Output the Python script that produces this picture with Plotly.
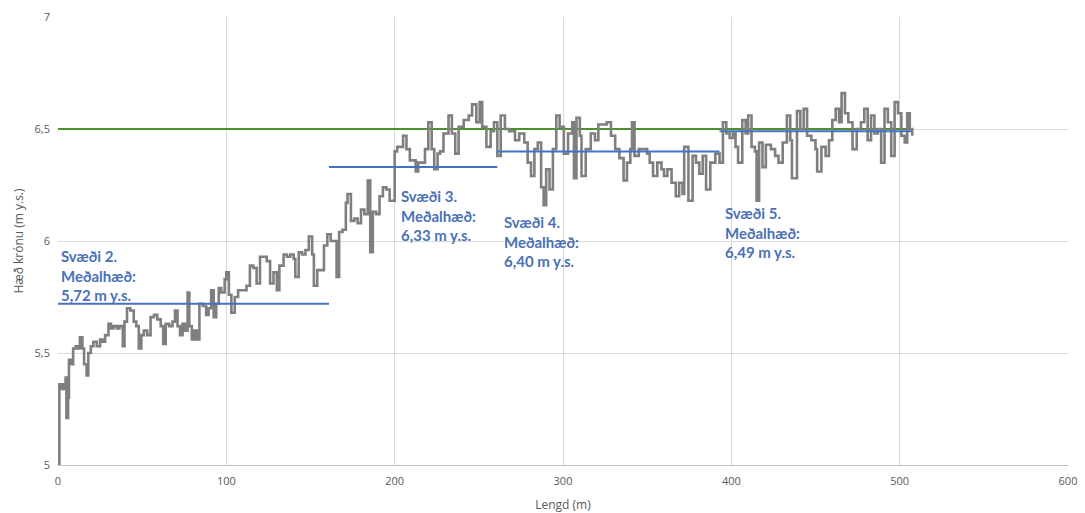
import plotly.graph_objects as go

# Profile: distance along transect (m) and crown elevation (m y.s.)
dist = [0, 0.8, 2, 3.5, 4.5, 5, 6, 6.5, 8, 9, 10.5, 12, 13, 14.5, 15.5, 17, 18, 19.5, 21, 23,
        25, 26.5, 28, 30, 31.5, 33, 35, 36.5, 38.5, 39.5, 41, 43, 45, 46.5, 48, 49.5, 51, 53, 55, 57,
        59, 61, 62.5, 64, 66, 68, 69.5, 71, 72.5, 74, 75.5, 77, 78, 79.5, 81, 82.5, 84, 86, 88, 89.5,
        91, 92.5, 94, 95.5, 97, 99, 100, 101.5, 103, 105, 107, 109.5, 112, 114, 116, 118, 120, 122, 124, 126,
        128, 130, 131.5, 134, 136, 138, 140, 141, 143, 145, 147, 149, 151, 152, 154, 156, 158, 160, 162, 164,
        165.5, 167, 169, 171, 172, 174, 176, 178, 180, 182, 184, 185.5, 187, 189, 191, 193, 195, 197, 199,
        200, 201.5, 203, 205, 207, 209, 211, 212.5, 214, 216, 218, 220, 222, 223.5, 225.5, 227, 229, 232,
        234, 236, 238, 241, 244, 246, 248.5, 250.5, 252, 254.5, 257, 259, 261, 263, 265.5, 268, 271.5, 274,
        277, 279, 281, 283, 285, 287, 288.5, 290, 292, 294, 296, 298,
        300.5, 303, 305.5, 306.5, 308, 310, 311, 313.5, 316.5, 319, 321, 323.5, 326, 328.5, 331, 333.5,
        336, 338, 340, 341, 342.5, 345, 348, 350, 351.5, 353.5, 356, 358.5, 360, 362, 364.5, 367, 369, 371,
        372, 374.5, 377, 379, 381, 383, 385, 387.5, 390.5, 393, 395, 397, 399,
        401, 402.5, 404, 406.5, 408.5, 410, 412, 414, 415, 416.5, 418.5, 420.5, 423.5, 426, 428, 430.5,
        433, 435, 436, 439, 441, 443, 445, 447.5, 450, 451, 453.5, 456, 458, 460, 462, 464, 465.5, 467.5,
        469.5, 472, 474.5, 477, 479, 481, 483, 485, 487, 489, 491, 493, 495, 497, 499, 501, 503, 504.5,
        506, 507.5]
elev = [5.00, 5.36, 5.34, 5.36, 5.39, 5.21, 5.30, 5.47, 5.45, 5.52, 5.53, 5.52, 5.57, 5.52, 5.45, 5.40, 5.50, 5.53, 5.55, 5.53,
        5.56, 5.55, 5.58, 5.63, 5.61, 5.62, 5.61, 5.62, 5.53, 5.64, 5.70, 5.69, 5.64, 5.62, 5.52, 5.58, 5.60, 5.58, 5.66, 5.67,
        5.65, 5.62, 5.54, 5.63, 5.62, 5.64, 5.69, 5.62, 5.58, 5.63, 5.60, 5.77, 5.62, 5.56, 5.60, 5.56, 5.72, 5.71, 5.67, 5.70,
        5.78, 5.66, 5.72, 5.79, 5.77, 5.83, 5.86, 5.76, 5.68, 5.75, 5.78, 5.78, 5.80, 5.89, 5.88, 5.81, 5.93, 5.93, 5.91, 5.81,
        5.86, 5.78, 5.89, 5.94, 5.93, 5.94, 5.92, 5.84, 5.95, 5.94, 5.96, 6.02, 5.94, 5.80, 5.87, 5.87, 5.98, 6.03, 6.00, 6.00,
        5.84, 6.04, 6.05, 6.17, 6.21, 6.09, 6.10, 6.08, 6.14, 6.12, 6.27, 5.95, 6.13, 6.12, 6.20, 6.24, 6.23, 6.18, 6.18,
        6.40, 6.42, 6.42, 6.47, 6.41, 6.36, 6.36, 6.31, 6.35, 6.35, 6.41, 6.53, 6.41, 6.32, 6.39, 6.40, 6.48, 6.56,
        6.48, 6.39, 6.51, 6.54, 6.56, 6.61, 6.53, 6.62, 6.51, 6.42, 6.49, 6.53, 6.38, 6.56, 6.50, 6.49, 6.45, 6.48,
        6.44, 6.35, 6.29, 6.41, 6.44, 6.24, 6.16, 6.32, 6.23, 6.41, 6.56, 6.51,
        6.39, 6.48, 6.53, 6.28, 6.55, 6.47, 6.29, 6.41, 6.48, 6.45, 6.52, 6.52, 6.53, 6.47, 6.41, 6.37,
        6.27, 6.35, 6.41, 6.53, 6.38, 6.41, 6.41, 6.39, 6.35, 6.29, 6.35, 6.32, 6.29, 6.32, 6.26, 6.20, 6.26, 6.21,
        6.42, 6.18, 6.38, 6.35, 6.30, 6.38, 6.23, 6.35, 6.39, 6.35, 6.53, 6.48, 6.46,
        6.48, 6.42, 6.35, 6.54, 6.48, 6.56, 6.42, 6.40, 6.18, 6.44, 6.33, 6.43, 6.41, 6.38, 6.35, 6.44,
        6.56, 6.45, 6.28, 6.58, 6.50, 6.59, 6.47, 6.45, 6.41, 6.31, 6.42, 6.38, 6.45, 6.54, 6.59, 6.53, 6.66, 6.57,
        6.53, 6.41, 6.50, 6.53, 6.59, 6.45, 6.56, 6.48, 6.50, 6.35, 6.59, 6.53, 6.38, 6.62, 6.57, 6.47, 6.44, 6.57,
        6.50, 6.47]

# Zone means (Svæði 2-5)
zone_names = ["Svæði 2.", "Svæði 3.", "Svæði 4.", "Svæði 5."]
zone_start = [0, 161, 261, 393]
zone_end = [161, 261, 393, 507]
zone_mean = [5.72, 6.33, 6.40, 6.49]
zone_mean_labels = ["5,72", "6,33", "6,40", "6,49"]

# Reference level
ref_level = 6.5
ref_start = 0
ref_end = 507

# Label placement (data coords)
label_x = [0.5, 202.5, 264, 395]
label_y = [5.848, 6.116, 5.996, 6.036]

blue = "#4472C4"
text_blue = "#4A71B5"
green = "#4E8F2F"
gray_line = "#7F7F7F"

fig = go.Figure()

fig.add_trace(go.Scatter(
    x=[ref_start, ref_end], y=[ref_level, ref_level], mode="lines",
    line=dict(color=green, width=1.8), hoverinfo="skip", showlegend=False))

fig.add_trace(go.Scatter(
    x=dist, y=elev, mode="lines", line=dict(color=gray_line, width=2.6, shape="hv"),
    showlegend=False))

for s, e, m in zip(zone_start, zone_end, zone_mean):
    fig.add_trace(go.Scatter(
        x=[s, e], y=[m, m], mode="lines", line=dict(color=blue, width=2),
        showlegend=False))

for name, lab, lx, ly in zip(zone_names, zone_mean_labels, label_x, label_y):
    fig.add_annotation(
        x=lx, y=ly, xref="x", yref="y", xanchor="left", yanchor="middle",
        text=f"{name}<br>Meðalhæð:<br>{lab} m y.s.", showarrow=False, align="left",
        font=dict(family="Lato", size=15, color=text_blue, weight="bold"))

axis_font = dict(family="Open Sans", size=11, color="#595959")

fig.update_layout(
    width=1085, height=513,
    margin=dict(l=58, r=17, t=17, b=48, autoexpand=False),
    plot_bgcolor="white", paper_bgcolor="white",
    separators=", ",
    xaxis=dict(range=[0, 600], dtick=100, tick0=0, showgrid=True, gridcolor="#D9D9D9",
               gridwidth=1, zeroline=False, showline=True, linecolor="#BFBFBF",
               ticks="", tickfont=axis_font, automargin=False, ticklabelstandoff=6,
               title=dict(text="Lengd (m)", font=dict(family="Open Sans", size=12, color="#595959"),
                          standoff=14)),
    yaxis=dict(range=[5, 7], dtick=0.5, tick0=5, showgrid=True, gridcolor="#D9D9D9",
               gridwidth=1, zeroline=False, showline=False, ticks="", tickfont=axis_font,
               automargin=False, ticklabelstandoff=7,
               title=dict(text="Hæð krónu (m y.s.)", font=dict(family="Open Sans", size=12, color="#595959"),
                          standoff=8)),
)

fig.write_html("out.html", config={"displayModeBar": False},
               post_script="document.body.style.margin='0';document.body.style.overflow='hidden';")
